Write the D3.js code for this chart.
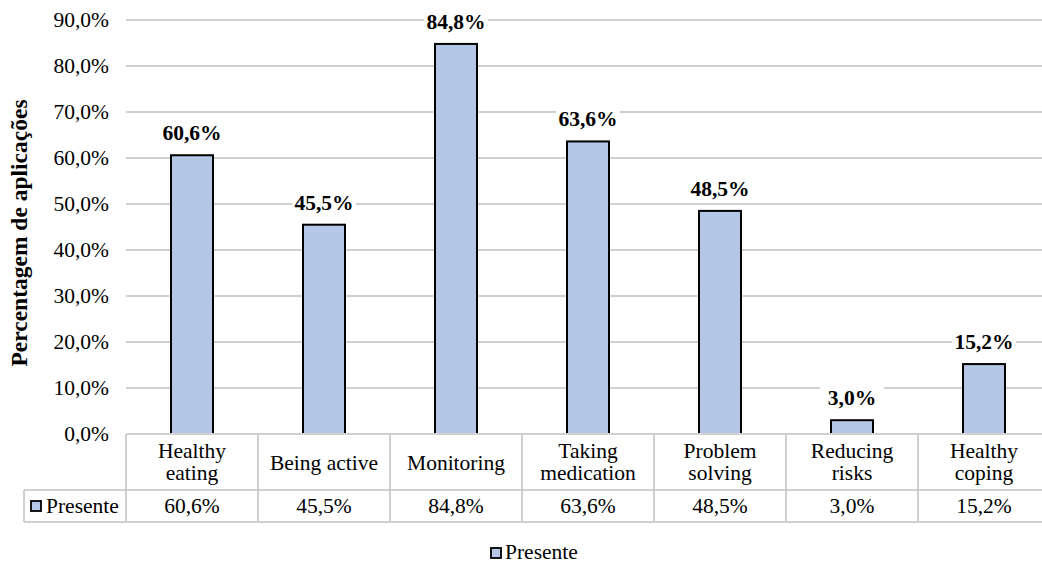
<!DOCTYPE html>
<html>
<head>
<meta charset="utf-8">
<script src="https://cdn.jsdelivr.net/npm/d3@7"></script>
<style>
  html, body { margin: 0; padding: 0; background: #fff; }
  svg { display: block; }
  svg text { font-family: "Liberation Serif", "Times New Roman", Times, serif; fill: #000; }
</style>
</head>
<body>
<svg id="chart" width="1042" height="564"></svg>
<script>
// Behaviour categories (two-line labels in the data table header)
const categories = ["Healthy eating", "Being active", "Monitoring", "Taking medication", "Problem solving", "Reducing risks", "Healthy coping"];
const categoryLines = [["Healthy", "eating"], ["Being active"], ["Monitoring"], ["Taking", "medication"], ["Problem", "solving"], ["Reducing", "risks"], ["Healthy", "coping"]];
const seriesName = "Presente";
const presente = [60.6, 45.5, 84.8, 63.6, 48.5, 3.0, 15.2];
const yTicks = [0, 10, 20, 30, 40, 50, 60, 70, 80, 90];
const yTitle = "Percentagem de aplicações";

const fmt = v => v.toFixed(1).replace(".", ",") + "%";

const svg = d3.select("#chart");
const plotLeft = 126, colW = 132;
const plotTop = 20, plotBottom = 434;
const headerBottom = 490, rowBottom = 522, keyLeft = 24;
const fs = 21.5;

const x = d3.scaleBand().domain(categories).range([plotLeft, plotLeft + colW * categories.length]).paddingInner(0).paddingOuter(0);
const y = d3.scaleLinear().domain([0, 90]).range([plotBottom, plotTop]);

const gridColor = "#d0d0d0";
const fill = "#b4c7e7";

// Gridlines
svg.append("g").selectAll("line").data(yTicks.filter(t => t > 0)).join("line")
  .attr("x1", plotLeft).attr("x2", 1042)
  .attr("y1", d => y(d)).attr("y2", d => y(d))
  .attr("stroke", gridColor).attr("stroke-width", 2);

// Y axis tick labels
const yAxis = d3.axisLeft(y).tickValues(yTicks).tickSize(0).tickPadding(0).tickFormat(fmt);
const ya = svg.append("g").attr("transform", `translate(${plotLeft - 17},0)`).call(yAxis);
ya.attr("font-family", null).attr("font-size", null);
ya.select(".domain").remove();
ya.selectAll("text").attr("font-size", fs).attr("fill", "#000").attr("dy", "0.3em");

// Y axis title
svg.append("text")
  .attr("transform", `translate(27,233) rotate(-90)`)
  .attr("text-anchor", "middle")
  .attr("font-size", 23.5).attr("font-weight", "bold")
  .text(yTitle);

// Bars
const barW = 42;
svg.append("g").selectAll("rect").data(presente).join("rect")
  .attr("x", (d, i) => x(categories[i]) + x.bandwidth() / 2 - barW / 2)
  .attr("y", d => y(d))
  .attr("width", barW)
  .attr("height", d => y(0) - y(d))
  .attr("fill", fill).attr("stroke", "#000").attr("stroke-width", 2);

// Data labels with a white backing box
const labels = svg.append("g").selectAll("g").data(presente).join("g")
  .attr("transform", (d, i) => `translate(${x(categories[i]) + x.bandwidth() / 2},${y(d) - 15})`);
labels.append("rect")
  .attr("x", -32).attr("y", -19).attr("width", 64).attr("height", 24).attr("fill", "#fff");
labels.append("text")
  .attr("text-anchor", "middle")
  .attr("font-size", 21.5).attr("font-weight", "bold")
  .text(d => fmt(d));

// Data table grid
const tableRight = plotLeft + colW * categories.length;
const tg = svg.append("g").attr("stroke", gridColor).attr("stroke-width", 2).attr("fill", "none");
tg.append("line").attr("x1", plotLeft).attr("x2", tableRight).attr("y1", plotBottom).attr("y2", plotBottom);
tg.append("line").attr("x1", keyLeft).attr("x2", tableRight).attr("y1", headerBottom).attr("y2", headerBottom);
tg.append("line").attr("x1", keyLeft).attr("x2", tableRight).attr("y1", rowBottom).attr("y2", rowBottom);
tg.append("line").attr("x1", keyLeft).attr("x2", keyLeft).attr("y1", headerBottom).attr("y2", rowBottom);
tg.selectAll("line.v").data(d3.range(categories.length + 1)).join("line").attr("class", "v")
  .attr("x1", i => plotLeft + i * colW).attr("x2", i => plotLeft + i * colW)
  .attr("y1", plotBottom).attr("y2", rowBottom);

// Header labels
svg.append("g").selectAll("text").data(categoryLines).join("text")
  .attr("text-anchor", "middle")
  .attr("font-size", fs)
  .attr("x", (d, i) => x(categories[i]) + x.bandwidth() / 2)
  .attr("y", d => d.length === 1 ? 470 : 458)
  .each(function(d) {
    const cx = d3.select(this).attr("x");
    d3.select(this).selectAll("tspan").data(d).join("tspan")
      .attr("x", cx)
      .attr("dy", (t, j) => j === 0 ? 0 : 22)
      .text(t => t);
  });

// Value row
svg.append("g").selectAll("text").data(presente).join("text")
  .attr("text-anchor", "middle").attr("font-size", fs)
  .attr("x", (d, i) => x(categories[i]) + x.bandwidth() / 2)
  .attr("y", 513)
  .text(d => fmt(d));

// Row key
svg.append("rect").attr("x", 31).attr("y", 501).attr("width", 10).attr("height", 10)
  .attr("fill", fill).attr("stroke", "#000").attr("stroke-width", 1.8);
svg.append("text").attr("x", 46).attr("y", 513).attr("font-size", fs).text(seriesName);

// Legend
svg.append("rect").attr("x", 491).attr("y", 548).attr("width", 10).attr("height", 10)
  .attr("fill", fill).attr("stroke", "#000").attr("stroke-width", 1.8);
svg.append("text").attr("x", 505).attr("y", 559).attr("font-size", fs).text(seriesName);
</script>
</body>
</html>
